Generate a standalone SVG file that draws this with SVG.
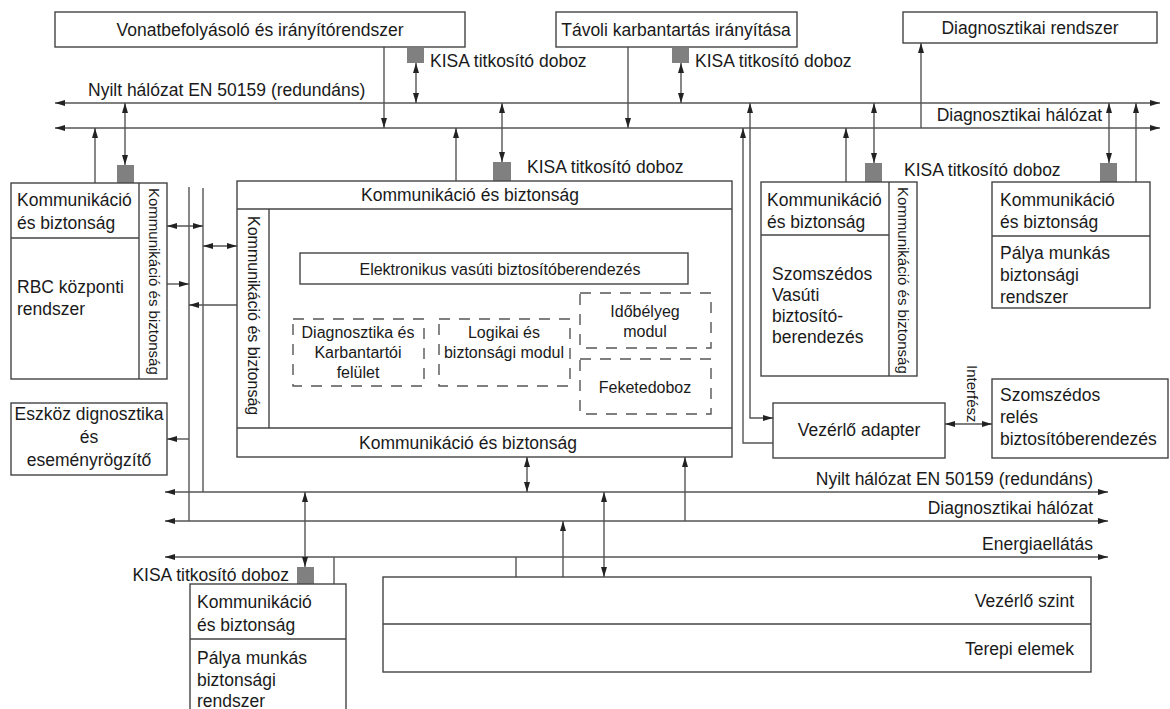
<svg xmlns="http://www.w3.org/2000/svg" width="1170" height="709" viewBox="0 0 1170 709">
  <style>
    .box { fill: #fff; stroke: #444; stroke-width: 1.4; }
    .sep { fill: none; stroke: #444; stroke-width: 1.4; }
    .dash { fill: none; stroke: #555; stroke-width: 1.4; stroke-dasharray: 11 9; }
    .kisa { fill: #808080; }
    .ln { fill: none; stroke: #555; stroke-width: 1.4; }
    .t { font-family: "Liberation Sans", Arial, sans-serif; font-size: 17.5px; fill: #1a1a1a; }
    .s { font-family: "Liberation Sans", Arial, sans-serif; font-size: 16px; fill: #1a1a1a; }
    .v { font-family: "Liberation Sans", Arial, sans-serif; font-size: 15px; fill: #1a1a1a; }
    .mid { text-anchor: middle; }
    .end { text-anchor: end; }
  </style>
  <defs>
    <marker id="ah" viewBox="0 0 10 6" refX="10" refY="3" markerWidth="10" markerHeight="6" markerUnits="userSpaceOnUse" orient="auto-start-reverse">
      <path d="M0,0 L10,3 L0,6 z" fill="#222"/>
    </marker>
  </defs>

  <rect width="1170" height="709" fill="#fff"/>

  <!-- connectors -->
  <g id="connectors">
    <!-- upper buses -->
    <line class="ln" x1="55" y1="103" x2="1160" y2="103" marker-start="url(#ah)" marker-end="url(#ah)"/>
    <line class="ln" x1="55" y1="128" x2="1160" y2="128" marker-start="url(#ah)" marker-end="url(#ah)"/>
    <!-- top systems to buses -->
    <line class="ln" x1="384" y1="47" x2="384" y2="128" marker-end="url(#ah)"/>
    <line class="ln" x1="416" y1="63" x2="416" y2="103" marker-start="url(#ah)" marker-end="url(#ah)"/>
    <line class="ln" x1="628" y1="47" x2="628" y2="128" marker-end="url(#ah)"/>
    <line class="ln" x1="681" y1="63" x2="681" y2="103" marker-start="url(#ah)" marker-end="url(#ah)"/>
    <line class="ln" x1="921" y1="128" x2="921" y2="43" marker-end="url(#ah)"/>
    <!-- RBC to buses -->
    <line class="ln" x1="95" y1="183" x2="95" y2="128" marker-end="url(#ah)"/>
    <line class="ln" x1="125" y1="103" x2="125" y2="165" marker-start="url(#ah)" marker-end="url(#ah)"/>
    <!-- interlocking to buses -->
    <line class="ln" x1="502" y1="103" x2="502" y2="162" marker-start="url(#ah)" marker-end="url(#ah)"/>
    <line class="ln" x1="456" y1="181" x2="456" y2="128" marker-end="url(#ah)"/>
    <!-- control adapter feeds -->
    <polyline class="ln" points="773,443 743,443 743,128" marker-end="url(#ah)"/>
    <polyline class="ln" points="773,418 750,418 750,103" marker-start="url(#ah)" marker-end="url(#ah)"/>
    <!-- neighbouring interlocking -->
    <line class="ln" x1="846" y1="182" x2="846" y2="128" marker-end="url(#ah)"/>
    <line class="ln" x1="874" y1="103" x2="874" y2="163" marker-start="url(#ah)" marker-end="url(#ah)"/>
    <!-- track worker system (right) -->
    <line class="ln" x1="1109" y1="103" x2="1109" y2="163" marker-start="url(#ah)" marker-end="url(#ah)"/>
    <line class="ln" x1="1136" y1="182" x2="1136" y2="103" marker-end="url(#ah)"/>
    <!-- interface -->
    <line class="ln" x1="945" y1="424" x2="992" y2="424" marker-start="url(#ah)" marker-end="url(#ah)"/>

    <!-- left local bus -->
    <line class="ln" x1="189" y1="187" x2="189" y2="521"/>
    <line class="ln" x1="203" y1="188" x2="203" y2="492"/>
    <line class="ln" x1="167" y1="226" x2="203" y2="226" marker-start="url(#ah)" marker-end="url(#ah)"/>
    <line class="ln" x1="203" y1="246" x2="237" y2="246" marker-start="url(#ah)" marker-end="url(#ah)"/>
    <line class="ln" x1="167" y1="284" x2="189" y2="284" marker-end="url(#ah)"/>
    <line class="ln" x1="237" y1="305" x2="189" y2="305" marker-end="url(#ah)"/>
    <line class="ln" x1="189" y1="439" x2="167" y2="439" marker-end="url(#ah)"/>

    <!-- lower buses -->
    <line class="ln" x1="165" y1="492" x2="1108" y2="492" marker-start="url(#ah)" marker-end="url(#ah)"/>
    <line class="ln" x1="165" y1="521" x2="1108" y2="521" marker-start="url(#ah)" marker-end="url(#ah)"/>
    <line class="ln" x1="165" y1="557" x2="1108" y2="557" marker-start="url(#ah)" marker-end="url(#ah)"/>
    <line class="ln" x1="527" y1="457" x2="527" y2="492" marker-start="url(#ah)" marker-end="url(#ah)"/>
    <line class="ln" x1="685" y1="521" x2="685" y2="457" marker-end="url(#ah)"/>
    <line class="ln" x1="305" y1="492" x2="305" y2="567" marker-start="url(#ah)" marker-end="url(#ah)"/>
    <line class="ln" x1="604" y1="492" x2="604" y2="577" marker-start="url(#ah)" marker-end="url(#ah)"/>
    <line class="ln" x1="563" y1="577" x2="563" y2="521" marker-end="url(#ah)"/>
    <line class="ln" x1="516" y1="557" x2="516" y2="577"/>
    <line class="ln" x1="334" y1="557" x2="334" y2="584"/>
  </g>

  <!-- bus labels -->
  <g id="bus-labels">
    <text class="t" x="88" y="96">Nyilt hálózat EN 50159 (redundáns)</text>
    <text class="t end" x="1102" y="121">Diagnosztikai hálózat</text>
    <text class="t end" x="1093" y="485">Nyilt hálózat EN 50159 (redundáns)</text>
    <text class="t end" x="1093" y="514">Diagnosztikai hálózat</text>
    <text class="t end" x="1093" y="550">Energiaellátás</text>
  </g>

  <!-- KISA encryption boxes -->
  <g id="kisa-1">
    <rect class="kisa" x="407" y="48" width="17" height="15"/>
    <text class="t" x="430" y="67">KISA titkosító doboz</text>
  </g>
  <g id="kisa-2">
    <rect class="kisa" x="672" y="48" width="17" height="15"/>
    <text class="t" x="695" y="67">KISA titkosító doboz</text>
  </g>
  <g id="kisa-rbc">
    <rect class="kisa" x="117" y="165" width="17" height="18"/>
  </g>
  <g id="kisa-ebi">
    <rect class="kisa" x="493" y="162" width="18" height="19"/>
    <text class="t" x="527" y="173">KISA titkosító doboz</text>
  </g>
  <g id="kisa-neighbour">
    <rect class="kisa" x="865" y="163" width="17" height="19"/>
    <text class="t" x="904" y="176">KISA titkosító doboz</text>
  </g>
  <g id="kisa-track-right">
    <rect class="kisa" x="1100" y="163" width="17" height="19"/>
  </g>
  <g id="kisa-track-lower">
    <rect class="kisa" x="297" y="567" width="17" height="17"/>
    <text class="t end" x="289" y="581">KISA titkosító doboz</text>
  </g>

  <!-- top systems -->
  <g id="train-control">
    <rect class="box" x="55" y="12" width="410" height="35"/>
    <text class="t mid" x="260" y="36">Vonatbefolyásoló és irányítórendszer</text>
  </g>
  <g id="remote-maintenance">
    <rect class="box" x="556" y="12" width="241" height="35"/>
    <text class="t mid" x="676" y="36">Távoli karbantartás irányítása</text>
  </g>
  <g id="diagnostic-system">
    <rect class="box" x="903" y="12" width="254" height="31"/>
    <text class="t mid" x="1030" y="34">Diagnosztikai rendszer</text>
  </g>

  <!-- RBC -->
  <g id="rbc">
    <rect class="box" x="11" y="183" width="156" height="196"/>
    <line class="sep" x1="139" y1="183" x2="139" y2="379"/>
    <line class="sep" x1="11" y1="238" x2="139" y2="238"/>
    <text class="t" x="17" y="206">Kommunikáció</text>
    <text class="t" x="17" y="229">és biztonság</text>
    <text class="t" x="17" y="293">RBC központi</text>
    <text class="t" x="17" y="315">rendszer</text>
    <text class="v" transform="translate(149,188) rotate(90)">Kommunikáció és biztonság</text>
  </g>

  <!-- device diagnostics -->
  <g id="device-diagnostics">
    <rect class="box" x="11" y="403" width="156" height="72"/>
    <text class="t mid" x="89" y="420">Eszköz dignosztika</text>
    <text class="t mid" x="89" y="443">és</text>
    <text class="t mid" x="89" y="466">eseményrögzítő</text>
  </g>

  <!-- electronic interlocking -->
  <g id="electronic-interlocking">
    <rect class="box" x="237" y="181" width="495" height="276"/>
    <line class="sep" x1="237" y1="209" x2="732" y2="209"/>
    <line class="sep" x1="237" y1="428" x2="732" y2="428"/>
    <line class="sep" x1="269" y1="209" x2="269" y2="428"/>
    <text class="t mid" x="470" y="201">Kommunikáció és biztonság</text>
    <text class="t mid" x="468" y="449">Kommunikáció és biztonság</text>
    <text class="s" transform="translate(248,216) rotate(90)">Kommunikáció és biztonság</text>
    <rect class="box" x="300" y="253" width="388" height="31"/>
    <text class="s mid" x="500" y="275">Elektronikus vasúti biztosítóberendezés</text>
    <rect class="dash" x="293" y="319" width="131" height="67"/>
    <text class="s mid" x="358" y="338">Diagnosztika és</text>
    <text class="s mid" x="358" y="358">Karbantartói</text>
    <text class="s mid" x="358" y="378">felület</text>
    <rect class="dash" x="439" y="319" width="131" height="67"/>
    <text class="s mid" x="504" y="338">Logikai és</text>
    <text class="s mid" x="504" y="358">biztonsági modul</text>
    <rect class="dash" x="580" y="293" width="131" height="55"/>
    <text class="s mid" x="645" y="317">Időbélyeg</text>
    <text class="s mid" x="645" y="337">modul</text>
    <rect class="dash" x="580" y="359" width="131" height="55"/>
    <text class="s mid" x="645" y="393">Feketedoboz</text>
  </g>

  <!-- neighbouring interlocking -->
  <g id="neighbour-interlocking">
    <rect class="box" x="761" y="182" width="156" height="194"/>
    <line class="sep" x1="889" y1="182" x2="889" y2="376"/>
    <line class="sep" x1="761" y1="235" x2="889" y2="235"/>
    <text class="t" x="767" y="206">Kommunikáció</text>
    <text class="t" x="767" y="228">és biztonság</text>
    <text class="t" x="772" y="280">Szomszédos</text>
    <text class="t" x="772" y="301">Vasúti</text>
    <text class="t" x="772" y="322">biztosító-</text>
    <text class="t" x="772" y="343">berendezés</text>
    <text class="v" transform="translate(898,187) rotate(90)">Kommunikáció és biztonság</text>
  </g>

  <!-- track worker safety system (right) -->
  <g id="track-worker-right">
    <rect class="box" x="992" y="182" width="158" height="126"/>
    <line class="sep" x1="992" y1="236" x2="1150" y2="236"/>
    <text class="t" x="1000" y="206">Kommunikáció</text>
    <text class="t" x="1000" y="228">és biztonság</text>
    <text class="t" x="1000" y="259">Pálya munkás</text>
    <text class="t" x="1000" y="281">biztonsági</text>
    <text class="t" x="1000" y="303">rendszer</text>
  </g>

  <!-- control adapter -->
  <g id="control-adapter">
    <rect class="box" x="773" y="403" width="172" height="55"/>
    <text class="t mid" x="859" y="436">Vezérlő adapter</text>
    <text class="v" transform="translate(967,365) rotate(90)">Interfész</text>
  </g>

  <!-- neighbouring relay interlocking -->
  <g id="relay-interlocking">
    <rect class="box" x="992" y="379" width="176" height="79"/>
    <text class="t" x="1000" y="401">Szomszédos</text>
    <text class="t" x="1000" y="423">relés</text>
    <text class="t" x="1000" y="445">biztosítóberendezés</text>
  </g>

  <!-- track worker safety system (lower) -->
  <g id="track-worker-lower">
    <rect class="box" x="190" y="584" width="156" height="140"/>
    <line class="sep" x1="190" y1="639" x2="346" y2="639"/>
    <text class="t" x="197" y="608">Kommunikáció</text>
    <text class="t" x="197" y="631">és biztonság</text>
    <text class="t" x="197" y="664">Pálya munkás</text>
    <text class="t" x="197" y="686">biztonsági</text>
    <text class="t" x="197" y="707">rendszer</text>
  </g>

  <!-- control level and field elements -->
  <g id="control-level">
    <rect class="box" x="383" y="577" width="708" height="95"/>
    <line class="sep" x1="383" y1="624" x2="1091" y2="624"/>
    <text class="t end" x="1074" y="607">Vezérlő szint</text>
    <text class="t end" x="1074" y="655">Terepi elemek</text>
  </g>
</svg>
